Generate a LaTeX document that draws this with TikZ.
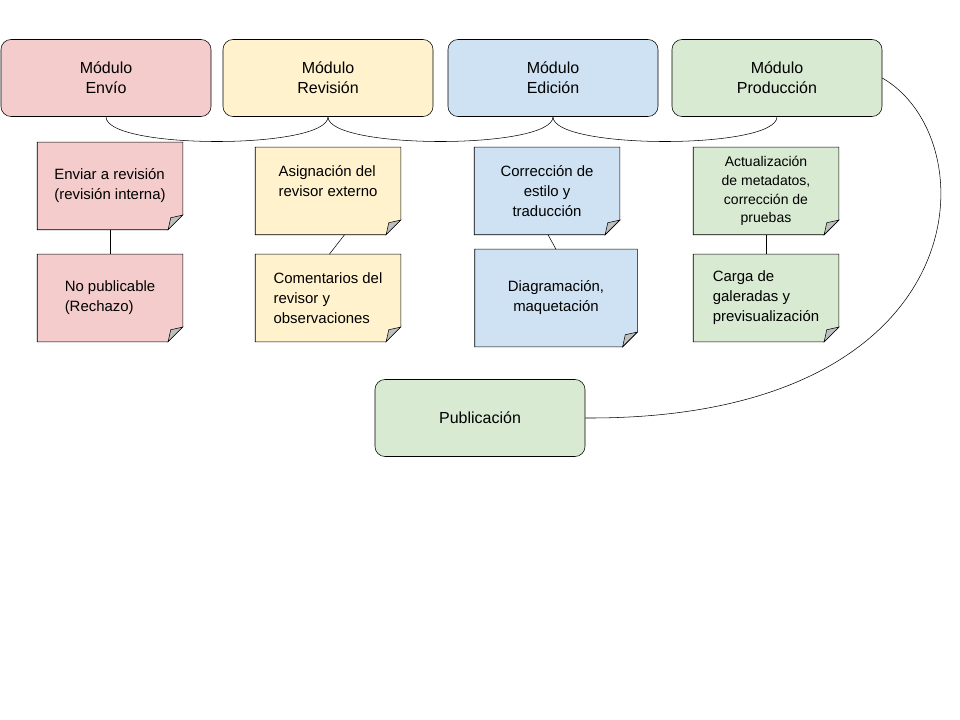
\documentclass[tikz,border=0pt]{standalone}
\usepackage{fontspec}
\setmainfont{Liberation Sans}
\usetikzlibrary{positioning}
\pgfdeclarelayer{background}
\pgfsetlayers{background,main}
\definecolor{pinkc}{HTML}{F4CCCC}
\definecolor{yellowc}{HTML}{FFF2CC}
\definecolor{bluec}{HTML}{CFE2F3}
\definecolor{greenc}{HTML}{D9EAD3}

\begin{document}
\begin{tikzpicture}
[
x=0.75pt, y=-0.75pt,
modulo-a/.style={rectangle,rounded corners=7.5pt,draw,minimum width=157.5pt,minimum height=57.75pt,align=center,font=\fontsize{12}{15}\selectfont},
nota-a/.style={rectangle,minimum width=108.75pt,minimum height=65.25pt,align=left,font=\fontsize{11.2}{15}\selectfont},
]
\useasboundingbox (0,0) rectangle (960,720);
% modulos
\node (env) [modulo-a, fill=pinkc]   at (106,78) {Módulo\\Envío};
\node (rev) [modulo-a, fill=yellowc] at (328,78) {Módulo\\Revisión};
\node (edi) [modulo-a, fill=bluec]   at (553,78) {Módulo\\Edición};
\node (pro) [modulo-a, fill=greenc]  at (777,78) {Módulo\\Producción};
\node (pub) [modulo-a, fill=greenc]  at (480,418) {Publicación};
% notas
\node (n1) [nota-a] at (110,186) {Enviar a revisión\\(revisión interna)};
\node (n2) [nota-a] at (110,298) {No publicable\\(Rechazo)};
\node (n3) [nota-a] at (328,191) {Asignación del\\revisor externo\\~};
\node (n4) [nota-a] at (328,298) {Comentarios del\\revisor y\\observaciones};
\node (n5) [nota-a, align=center] at (547,191) {Corrección de\\estilo y\\traducción};
\node (n6) [nota-a, align=center, minimum width=121.5pt, minimum height=72.75pt] at (556,298) {Diagramación,\\maquetación};
\node (n7) [nota-a, align=center, font=\fontsize{10.5}{14}\selectfont] at (766,191) {Actualización\\de metadatos,\\corrección de\\pruebas};
\node (n8) [nota-a] at (766,298) {Carga de\\galeradas y\\previsualización};
\begin{pgfonlayer}{background}
\foreach \n/\c in {n1/pinkc,n2/pinkc,n3/yellowc,n4/yellowc,n5/bluec,n6/bluec,n7/greenc,n8/greenc}
{
\draw [fill=\c] (\n.north west) -- (\n.north east) -- ([yshift=11pt]\n.south east)
  -- ([xshift=-11pt]\n.south east) -- (\n.south west) -- cycle;
\draw [fill=black!25] ([yshift=11pt]\n.south east) -- ([xshift=-11pt]\n.south east)
  -- ([xshift=-9pt,yshift=9pt]\n.south east) -- cycle;
}
\end{pgfonlayer}
% conectores
\draw (env.south) .. controls +(0,33) and +(0,33) .. (rev.south);
\draw (rev.south) .. controls +(0,33) and +(0,33) .. (edi.south);
\draw (edi.south) .. controls +(0,33) and +(0,33) .. (pro.south);
\draw (n1) -- (n2);
\draw ([xshift=12.4pt]n3.south) -- ([xshift=1pt]n4.north);
\draw ([xshift=0.75pt]n5.south) -- (n6.north);
\draw (n7) -- (n8);
\draw (pro.east) .. controls (990,140) and (980,420) .. (pub.east);
\end{tikzpicture}
\end{document}
